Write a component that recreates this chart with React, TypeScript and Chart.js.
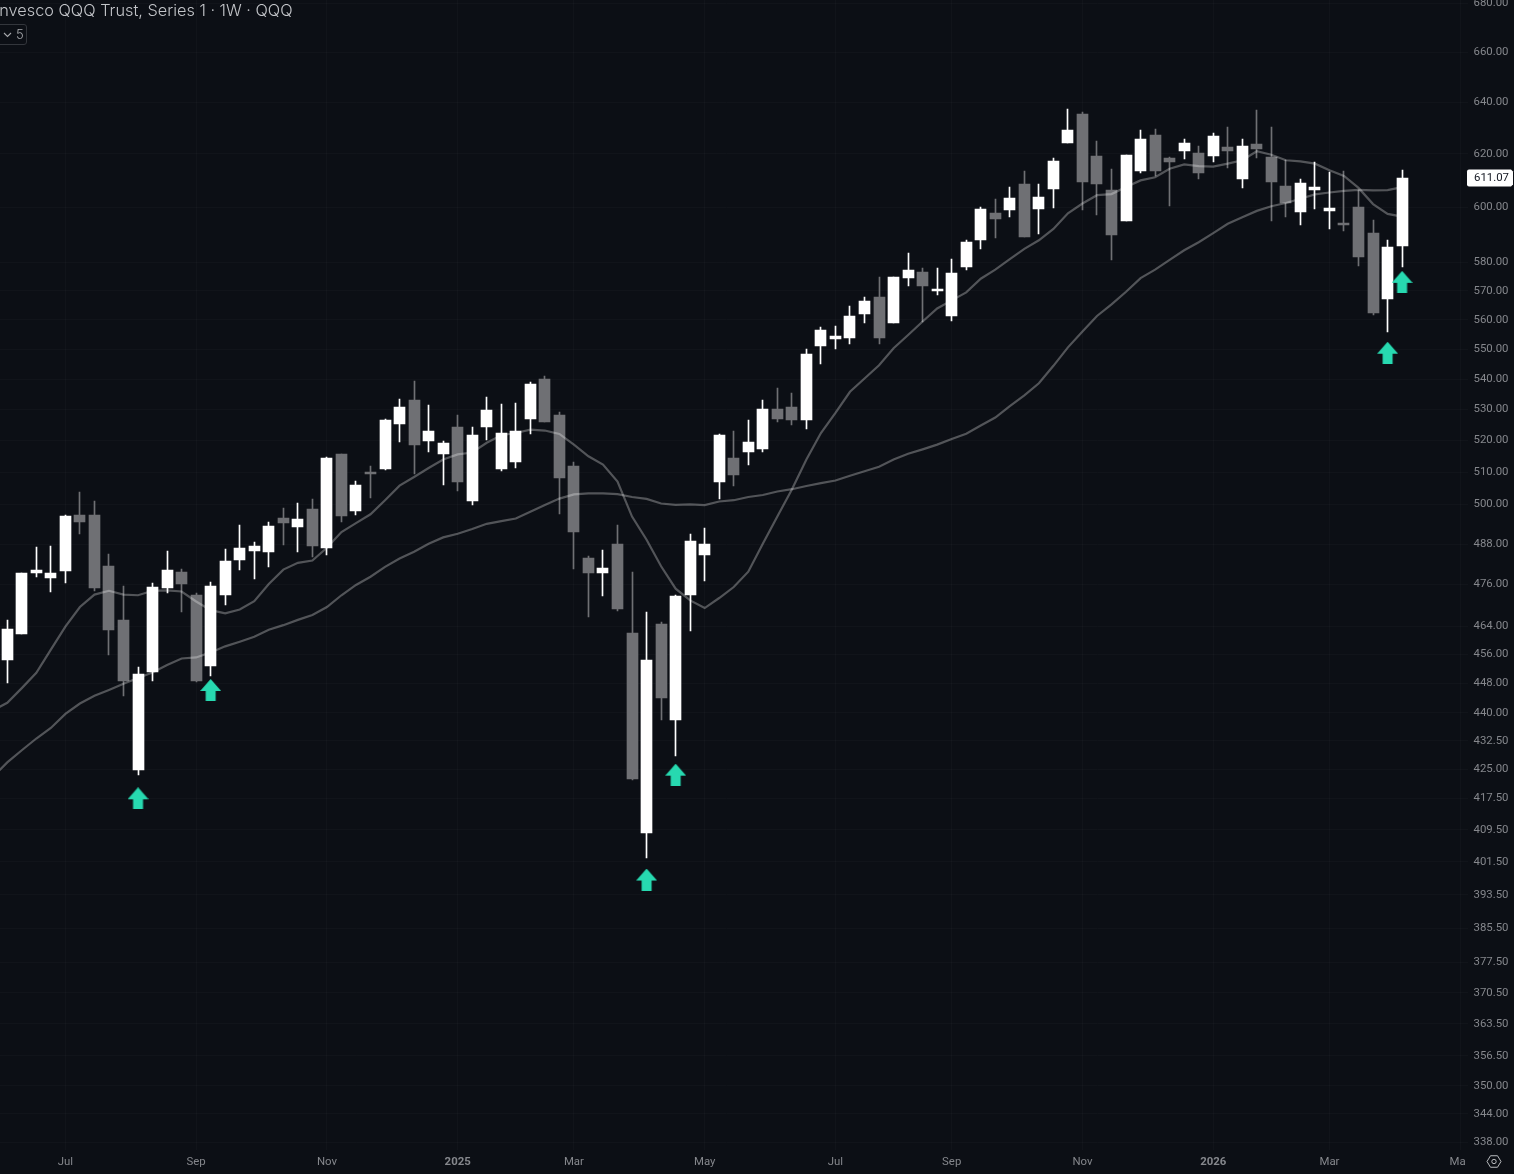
import React, { useEffect, useRef } from "react";
import { Chart, registerables } from "chart.js";

Chart.register(...registerables);

const tickIndex = [4, 13, 22, 31, 39, 48, 57, 65, 74, 83, 91, 100];
const tickText = ["Jul", "Sep", "Nov", "2025", "Mar", "May", "Jul", "Sep", "Nov", "2026", "Mar", "May"];

const opens = [454.6,461.9,479.5,477.9,480.1,496.8,496.8,481.6,465.8,424.7,451.2,475,479.8,473.1,452.9,472.9,483.1,485.8,485.5,495.9,493.2,498.6,486.9,515.6,498,510.2,511.1,525.4,533,519.7,515.6,524.4,501,524.4,511.1,513.3,527,540.1,528.2,511.8,483.7,479.5,488.1,462.2,408.6,464.7,438.1,472.9,484.6,507,514.6,516.2,517.2,530.1,530.8,526.7,551.2,553.6,553.9,562,567.8,558.9,574.6,576.8,570.3,561.3,578.5,588.2,597.9,599,608.7,599.4,606.8,624.3,635.4,619.4,606.4,595,613.6,627.4,618.6,621.3,620.5,619.4,622.8,610.6,623.6,619,608,598.3,606.4,598.6,594.3,600.1,590.8,567.1,586.1];
const highs = [465.8,479.5,487.2,487.5,496.8,503.8,501,484.9,475.6,452.4,476.5,485.8,480.7,473.5,476.8,486.6,493.8,488.7,494.7,498.9,500.4,501.6,514.9,515.8,507.3,511.8,527,533.3,539.4,531.4,520,528.2,524.4,534,531.7,532,539.1,541.1,529.2,513.3,484.3,486.1,493.8,479.8,468,465.2,473.1,491.1,492.9,522.2,523.2,526.7,533,537,535.4,550.2,557.6,557.9,564.7,567.8,575,575,583.6,578.2,578.2,581.4,588.2,600.1,603,607.6,613.6,608.7,618.6,637.3,636.1,625.1,614.4,619.7,629.3,629.7,618.8,625.8,623.2,628.1,630.4,625.8,636.9,630.4,617.8,610.6,617.1,613.3,613.6,606.4,595.4,588.2,614];
const lows = [448.2,461.9,478.3,473.8,476.5,491.1,474.1,456,444.5,423.6,448.7,473.5,468,448.4,450.1,470,480.4,477.7,481.3,487.8,485.5,484,484.6,494.7,496.8,501.9,510.8,519.4,509.5,516.5,506.1,504.1,499.8,520.3,510.5,511.4,522.2,526,497.1,480.7,466.6,472.6,468.3,422.3,402.6,438.1,428.4,462.7,477.1,501.6,505.7,512.4,516.2,526,525.1,523.8,545.1,549.9,551.9,558.9,551.9,558.9,571.7,559.3,568.5,559.6,577.5,584.7,589,596.5,589.3,590.4,599.7,624.3,599,597.2,581,595,612.9,611.7,600.4,618.2,610.6,617.1,614.8,607.2,618.6,595,596.5,593.6,599.4,592.2,591.5,578.9,561.6,555.9,578.5];
const closes = [463.3,479.5,480.4,479.5,496.5,494.7,475,463,448.7,450.7,475.3,480.4,476.2,448.7,475.6,482.8,486.9,487.5,493.5,494.4,495.6,487.5,514.6,496.5,506.1,509.9,526.7,530.8,518.7,522.9,519.1,507,521.9,529.8,522.5,523.2,538.4,526,508.3,491.7,479.5,481,468.9,422.5,454.6,444,472.6,489,488.1,521.9,509.2,519.4,530.1,527,526.7,548.5,556.6,554.6,561.3,566.4,553.9,575,577.5,571.7,570.6,576.4,587.2,599.4,595.8,603.3,589.3,604,617.5,629.3,609.5,608.7,590,619.7,625.8,613.6,617.1,624.3,612.9,627,621.3,623.2,622,609.5,601.5,609.1,607.6,599.7,593.6,582.1,562.3,585.4,611.07];

// Both averages start one week before the first candle: they run off the left edge.
const fastAverage = [440.6,442.7,446.7,450.9,457.4,463.9,469.5,473.1,474.2,473.1,472.9,474.2,474.3,474,471.1,468.6,467.7,468.8,471.2,476.2,480.4,482.4,483.1,486.9,491.6,494.3,497,501.3,505.8,508.5,511.3,514,515.6,516.2,519.3,521.7,522.4,523.5,523.2,522.1,518.7,515,512.4,507.1,496.3,489.3,481.4,474.8,471.4,469.2,472.1,475.3,479.8,488.1,496.3,504.6,514,522.4,528.9,535.8,540.2,544.6,550.3,554.8,559.4,563.9,566.7,569.5,574.3,577.5,581.2,584.9,588,592.1,597.8,601.4,604.5,604.9,607.5,610,611.2,614.4,616,615.4,615.2,616.3,617.6,621,619.7,617.6,617.2,616.3,613.8,611.7,607.2,601.2,597.6,596.6];
const slowAverage = [423,426.8,430,433.1,435.9,439.7,442.5,444.6,446.2,447.9,449.5,451,453.1,454.9,455.2,456.6,458.3,459.6,461,463,464.3,465.8,467.2,469.5,472.9,475.9,478.3,481.2,483.7,485.7,488.1,490,491.1,492.5,494.1,494.9,495.7,497.8,499.8,501.8,503.1,503.4,503.4,503.2,502.3,501.7,500.3,499.9,500,499.8,500.9,501.3,502.3,502.9,504,504.7,505.7,506.6,507.4,508.9,510.3,511.7,514,515.8,517.2,518.7,520.5,522.2,524.8,527.4,531.1,534.6,538.6,544.4,550.6,556,561.3,565.3,569.7,574.5,577.5,581,584.4,587.3,590.6,594,596.4,598.7,600.4,601.6,603.2,604.8,605.5,606.1,606.5,606.3,606.4,607.5];

const signalIndex = [9, 14, 44, 46, 95, 96];
const signalPrice = [417.5, 446.2, 397.2, 423.6, 548.8, 573.2];

const priceTicks = [680,660,640,620,600,580,570,560,550,540,530,520,510,500,488,476,464,456,448,440,432.5,425,417.5,409.5,401.5,393.5,385.5,377.5,370.5,363.5,356.5,350,344,338];

const BG = "#0c0f15";
const UP = "#ffffff";
const DOWN = "#6f7074";
const AXIS_TEXT = "#85878c";
const FONT = "Roboto";
const LEAD = 1; // one slot before the first candle
const SLOT_COUNT = 102;
const SHIFT = 15; // the canvas starts this many pixels left of the page

const categories = Array.from({ length: SLOT_COUNT }, (_, i) => {
  const k = tickIndex.indexOf(i - LEAD);
  return k >= 0 ? tickText[k] : "";
});
const barColors = [UP, ...closes.map((c, i) => (c >= opens[i] ? UP : DOWN))];
const signalSeries = [null, ...closes.map((_, i) => {
  const k = signalIndex.indexOf(i);
  return k >= 0 ? signalPrice[k] : null;
})];

function arrowSprite(): HTMLCanvasElement {
  const c = document.createElement("canvas");
  c.width = 21;
  c.height = 22;
  const g = c.getContext("2d")!;
  g.fillStyle = "#27d9b0";
  g.beginPath();
  g.moveTo(10.5, 0);
  g.lineTo(21, 12);
  g.lineTo(15.5, 12);
  g.lineTo(15.5, 22);
  g.lineTo(5.5, 22);
  g.lineTo(5.5, 12);
  g.lineTo(0, 12);
  g.closePath();
  g.fill();
  return c;
}

const snapBars = {
  id: "snapBars",
  beforeDatasetsDraw(chart: any) {
    chart.data.datasets.forEach((ds: any, di: number) => {
      if (ds.type !== "bar") return;
      chart.getDatasetMeta(di).data.forEach((el: any) => {
        el.x = Math.floor(el.x) + 0.5;
        const top = Math.round(Math.min(el.y, el.base));
        let bottom = Math.round(Math.max(el.y, el.base));
        if (ds.label === "body" && bottom - top < 2) bottom = top + 2;
        el.y = top;
        el.base = bottom;
      });
    });
  },
};

const overlay = {
  id: "overlay",
  afterDraw(chart: any) {
    const { ctx, scales } = chart;
    ctx.save();
    ctx.translate(SHIFT, 0);
    // right edge of the time axis: labels run under the price column
    ctx.fillStyle = BG;
    ctx.fillRect(1465, 1150, 49, 24);

    const cy = Math.round(scales.y.getPixelForValue(closes[closes.length - 1]));
    ctx.fillStyle = "#ffffff";
    ctx.beginPath();
    ctx.moveTo(1469, cy - 8.5);
    ctx.lineTo(1511, cy - 8.5);
    ctx.lineTo(1513, cy - 6.5);
    ctx.lineTo(1513, cy + 6.5);
    ctx.lineTo(1511, cy + 8.5);
    ctx.lineTo(1469, cy + 8.5);
    ctx.quadraticCurveTo(1467, cy + 8.5, 1467, cy + 6.5);
    ctx.lineTo(1467, cy - 6.5);
    ctx.quadraticCurveTo(1467, cy - 8.5, 1469, cy - 8.5);
    ctx.fill();
    ctx.fillStyle = "#131722";
    ctx.font = `11.4px ${FONT}`;
    ctx.textAlign = "right";
    ctx.textBaseline = "middle";
    ctx.fillText(closes[closes.length - 1].toFixed(2), 1509, cy + 0.5);

    const gx = 1494;
    const gy = 1161.5;
    ctx.strokeStyle = "#b8babd";
    ctx.lineWidth = 1;
    ctx.beginPath();
    for (let i = 0; i < 6; i++) {
      const a = (Math.PI / 3) * i;
      const px = gx + 7 * Math.cos(a);
      const py = gy + 7 * Math.sin(a) * 0.95;
      if (i === 0) ctx.moveTo(px, py);
      else ctx.lineTo(px, py);
    }
    ctx.closePath();
    ctx.stroke();
    ctx.beginPath();
    ctx.arc(gx, gy, 2.2, 0, Math.PI * 2);
    ctx.stroke();
    ctx.restore();
  },
};

export default function App() {
  const ref = useRef<HTMLCanvasElement | null>(null);
  useEffect(() => {
    const chart = new Chart(ref.current!, {
      type: "bar",
      data: {
        labels: categories,
        datasets: [
          {
            type: "line",
            label: "signal",
            data: signalSeries,
            showLine: false,
            pointStyle: arrowSprite(),
            pointRadius: 10,
            order: 1,
          },
          {
            type: "line",
            label: "fast",
            data: fastAverage,
            borderColor: "rgba(255,255,255,0.29)",
            borderWidth: 2.2,
            pointRadius: 0,
            tension: 0,
            order: 2,
          },
          {
            type: "line",
            label: "slow",
            data: slowAverage,
            borderColor: "rgba(255,255,255,0.29)",
            borderWidth: 2.2,
            pointRadius: 0,
            tension: 0,
            order: 2,
          },
          {
            type: "bar",
            label: "body",
            data: [null, ...closes.map((c, i) => [opens[i], c])],
            backgroundColor: barColors,
            barThickness: 11,
            grouped: false,
            order: 3,
          },
          {
            type: "bar",
            label: "wick",
            data: [null, ...closes.map((_, i) => [lows[i], highs[i]])],
            backgroundColor: barColors,
            barThickness: 1,
            grouped: false,
            order: 4,
          },
        ],
      } as any,
      options: {
        responsive: false,
        animation: false,
        devicePixelRatio: 1,
        events: [],
        layout: { autoPadding: false, padding: { left: 0.47, top: 0, right: 5.5, bottom: 0 } },
        plugins: { legend: { display: false }, tooltip: { enabled: false }, title: { display: false } },
        scales: {
          x: {
            type: "category",
            offset: true,
            afterBuildTicks: (s: any) => {
              s.ticks = tickIndex.map((i) => ({ value: i + LEAD }));
            },
            afterFit: (s: any) => {
              s.height = 24;
              s.paddingLeft = 0;
              s.paddingRight = 0;
            },
            grid: { offset: false, color: "rgba(255,255,255,0.022)", drawTicks: false },
            border: { display: false },
            ticks: {
              autoSkip: false,
              maxRotation: 0,
              padding: 5,
              color: AXIS_TEXT,
              font: (ctx: any) => {
                const label = ctx.tick ? categories[ctx.tick.value] : "";
                return { family: FONT, size: 11.4, weight: /^\d+$/.test(label) ? "bold" : "normal" };
              },
            },
          },
          y: {
            type: "logarithmic",
            position: "right",
            min: 336.45,
            max: 681.42,
            afterBuildTicks: (s: any) => {
              s.ticks = priceTicks.map((v) => ({ value: v }));
            },
            afterFit: (s: any) => {
              s.width = 41;
              s.paddingTop = 0;
              s.paddingBottom = 0;
            },
            grid: { color: "rgba(255,255,255,0.022)", drawTicks: false },
            border: { display: false },
            ticks: {
              autoSkip: false,
              crossAlign: "far",
              color: AXIS_TEXT,
              font: { family: FONT, size: 11.4 },
              callback: (v: any) => Number(v).toFixed(2),
            },
          },
        },
      } as any,
      plugins: [snapBars, overlay],
    });
    return () => chart.destroy();
  }, []);

  return (
    <div style={{ position: "fixed", left: 0, top: 0, width: 1514, height: 1174, background: BG, overflow: "hidden" }}>
      <canvas
        ref={ref}
        width={1514 + SHIFT}
        height={1174}
        style={{ display: "block", position: "absolute", left: -SHIFT, top: 0, width: 1514 + SHIFT, height: 1174 }}
      />
      <div
        style={{
          position: "absolute",
          left: -5,
          top: 0,
          color: "#c3c5c9",
          font: `300 16.3px Inter, sans-serif`,
          lineHeight: "20px",
          whiteSpace: "nowrap",
        }}
      >
        Invesco QQQ Trust, Series 1 · 1W · QQQ
      </div>
      <div
        style={{
          position: "absolute",
          left: -4,
          top: 24,
          width: 31,
          height: 21,
          boxSizing: "border-box",
          border: "1px solid #33363c",
          borderRadius: 3,
          color: "#a6a8ac",
          font: `300 13px Inter, sans-serif`,
          lineHeight: "19px",
          paddingLeft: 19,
        }}
      >
        5
        <svg width="9" height="6" style={{ position: "absolute", left: 6, top: 7 }}>
          <path d="M1 1 L4.5 4.5 L8 1" stroke="#a6a8ac" fill="none" strokeWidth="1.1" />
        </svg>
      </div>
    </div>
  );
}
